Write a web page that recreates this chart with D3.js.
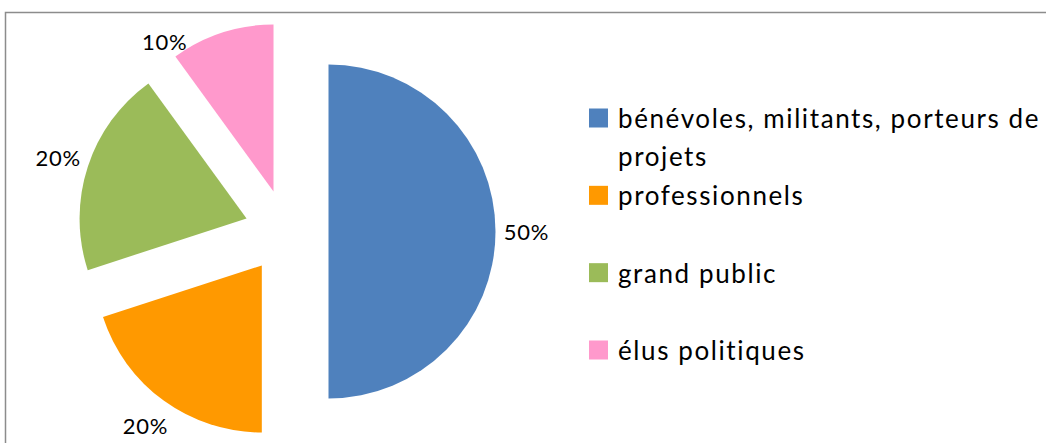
<!DOCTYPE html>
<html>
<head>
<meta charset="utf-8">
<script src="https://cdn.jsdelivr.net/npm/d3@7"></script>
<style>
  body { margin: 0; background: #fff; }
  svg { display: block; }
</style>
</head>
<body>
<svg id="chart" width="1046" height="443"></svg>
<script>
// data
var categories = ["bénévoles, militants, porteurs de projets", "professionnels", "grand public", "élus politiques"];
var values = [50, 20, 20, 10];
var colors = ["#4F81BD", "#FF9900", "#9BBB59", "#FF99CC"];

var svg = d3.select("#chart");
var W = 1046, H = 443;

// chart frame (only top and left edges are visible in the picture)
svg.append("path")
   .attr("d", "M5.5," + H + "V12.5H" + W)
   .style("fill", "none")
   .style("stroke", "#8c8c8c")
   .style("stroke-width", 1.5);

var cx = 286.5, cy = 231.5, r = 167, explode = 42;
var color = d3.scaleOrdinal().domain(categories).range(colors);

var pie = d3.pie().sort(null).value(function(d){ return d; });
var arcs = pie(values);
var arc = d3.arc().innerRadius(0).outerRadius(r);

var g = svg.append("g").attr("transform", "translate(" + cx + "," + cy + ")");

function offset(d, dist) {
    var a = (d.startAngle + d.endAngle) / 2;
    return [Math.sin(a) * dist, -Math.cos(a) * dist];
}

g.selectAll("path.slice")
   .data(arcs)
   .enter().append("path")
   .attr("class", "slice")
   .attr("d", arc)
   .attr("transform", function(d){ var o = offset(d, explode); return "translate(" + o[0] + "," + o[1] + ")"; })
   .style("fill", function(d, i){ return color(categories[i]); });

// data labels, outside end; slide along the arc when it would leave the plot area
g.selectAll("text.lbl")
   .data(arcs)
   .enter().append("text")
   .attr("class", "lbl")
   .each(function(d){
       var o = offset(d, explode);
       var a = (d.startAngle + d.endAngle) / 2, lr = r + 31;
       var y = o[1] - Math.cos(a) * lr;
       if (cy + y < 30) { a = d.startAngle; lr = r + 18; }
       d3.select(this)
         .attr("x", o[0] + Math.sin(a) * lr)
         .attr("y", o[1] - Math.cos(a) * lr);
   })
   .text(function(d){ return d.value + "%"; })
   .style("font-family", "Lato")
   .style("font-size", "22px")
   .style("letter-spacing", "0.8px")
   .style("fill", "#000")
   .attr("text-anchor", "middle")
   .attr("dominant-baseline", "central");

// legend
var ly = d3.scalePoint().domain(categories).range([118, 350]);
var lx = 589, tx = 618, maxW = W - tx;

var leg = svg.selectAll("g.leg")
   .data(categories)
   .enter().append("g")
   .attr("class", "leg");

leg.append("rect")
   .attr("x", lx)
   .attr("y", function(d){ return ly(d) - 9.5; })
   .attr("width", 19)
   .attr("height", 19)
   .style("fill", function(d){ return color(d); });

leg.append("text")
   .attr("x", tx)
   .attr("y", function(d){ return ly(d) + 10; })
   .style("font-family", "Lato")
   .style("font-size", "26px")
   .style("letter-spacing", "1.6px")
   .style("fill", "#000")
   .each(function(d){
       var t = d3.select(this), words = d.split(" "), line = [];
       var ts = t.append("tspan").attr("x", tx).attr("dy", 0);
       words.forEach(function(w){
           line.push(w);
           ts.text(line.join(" "));
           if (ts.node().getComputedTextLength() > maxW && line.length > 1) {
               line.pop();
               ts.text(line.join(" "));
               line = [w];
               ts = t.append("tspan").attr("x", tx).attr("dy", 38).text(w);
           }
       });
   });
</script>
</body>
</html>
